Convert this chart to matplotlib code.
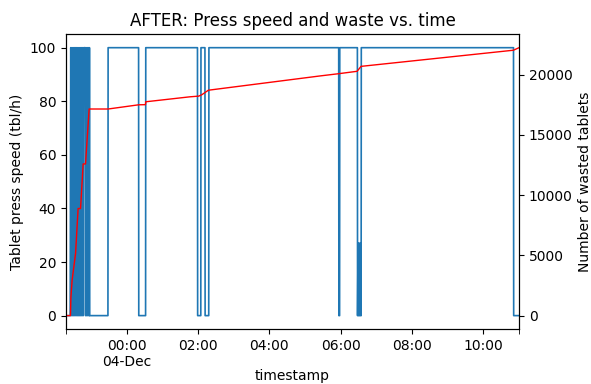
import pandas as pd
import matplotlib
matplotlib.use("Agg")
import matplotlib.pyplot as plt
import matplotlib.dates as mdates

base = pd.Timestamp("2021-12-04 00:00")

# press speed, minutes relative to 04-Dec 00:00
speed_min = [-103, -96, -95, -94, -93, -92, -91, -90, -89, -88, -87, -86, -85, -84,
             -83, -82, -81, -80, -79, -78, -77, -76, -75, -74, -73, -70.5, -70, -69,
             -68, -67, -66, -65, -64, -63.5, -63, -32.3, -32, 19.4, 19.7, 31.2, 31.5,
             118.7, 119, 124.3, 124.6, 131.3, 131.6, 137.7, 138, 356.9, 357.2, 358.4,
             358.7, 388.4, 388.7, 389.5, 390.2, 391, 391.7, 392.5, 393.2, 394, 394.7,
             395, 651.7, 652, 661]
speed_val = [0, 0, 100, 0, 100, 0, 100, 0, 100, 0, 100, 0, 100, 0,
             100, 0, 100, 0, 100, 0, 100, 0, 100, 0, 100, 100, 0, 100,
             0, 100, 0, 100, 0, 100, 0, 0, 100, 100, 0, 0, 100,
             100, 0, 0, 100, 100, 0, 0, 100, 100, 0, 0,
             100, 100, 0, 27, 0, 27, 0, 27, 0, 27, 0,
             100, 100, 0, 0]

# cumulative wasted tablets
waste_min = [-103, -95.5, -94.8, -92.7, -86.9, -82.6, -78.5, -74.1, -70.1, -64.0, -32,
             19.7, 31.0, 31.5, 105.6, 120.8, 125.9, 137.1, 324.6, 356.7, 387.9,
             394.6, 651.6, 661]
waste_val = [0, 0, 1500, 2940, 5160, 8890, 8890, 12590, 12590, 17150, 17150,
             17500, 17510, 17750, 18160, 18220, 18330, 18710, 19890, 20080, 20280,
             20690, 22030, 22240]

speed_t = base + pd.to_timedelta(speed_min, unit="m")
waste_t = base + pd.to_timedelta(waste_min, unit="m")

fig = plt.figure(figsize=(5.91, 3.84), dpi=100)
ax = fig.add_axes([0.1117, 0.1432, 0.7665, 0.7675])
ax.plot(speed_t, speed_val, color="C0", linewidth=1.2)
ax.set_xlim(speed_t[0], speed_t[-1])
ax.set_ylim(-5, 105)
ax.set_ylabel("Tablet press speed (tbl/h)")
ax.set_xlabel("timestamp", labelpad=0)
ax.set_title("AFTER: Press speed and waste vs. time")

ax2 = ax.twinx()
ax2.plot(waste_t, waste_val, color="red", linewidth=1)
top = max(waste_val) * 1.05
ax2.set_ylim(-max(waste_val) * 0.05, top)
ax2.set_ylabel("Number of wasted tablets")

ticks = [base + pd.Timedelta(hours=h) for h in range(0, 12, 2)]
ax.set_xticks(ticks)


def fmt(x, pos=None):
    d = mdates.num2date(x)
    if d.hour == 0:
        return d.strftime("%H:%M") + "\n" + d.strftime("%d-%b")
    return d.strftime("%H:%M")


ax.xaxis.set_major_formatter(plt.FuncFormatter(fmt))
ax.set_xticks([speed_t[0], speed_t[-1]], minor=True)
ax.tick_params(axis="x", which="minor", length=3.5)

fig.savefig("out.png", dpi=100)
